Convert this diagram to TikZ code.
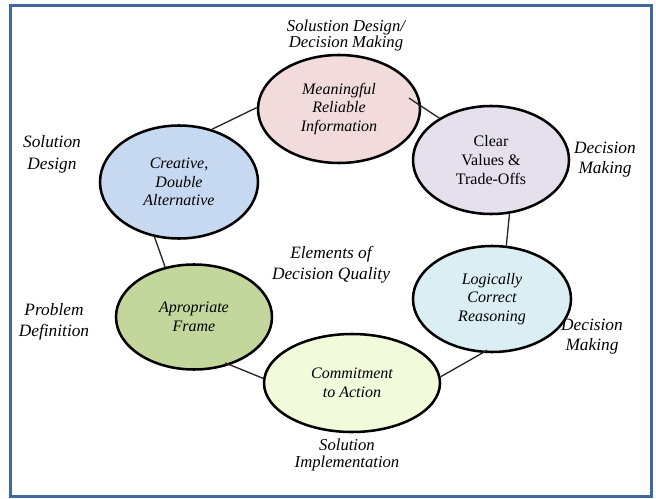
\documentclass[tikz,border=0pt]{standalone}
\usepackage{fontspec}
\setmainfont{Liberation Serif}
\usetikzlibrary{shapes.geometric}
\definecolor{framec}{RGB}{62,104,158}
\definecolor{pinkc}{RGB}{242,220,219}
\definecolor{purplec}{RGB}{229,224,236}
\definecolor{bluec}{RGB}{198,217,241}
\definecolor{greenc}{RGB}{195,214,155}
\definecolor{aquac}{RGB}{219,238,244}
\definecolor{yellowc}{RGB}{242,250,220}
\begin{document}
\begin{tikzpicture}[x=0.75pt,y=-0.75pt,
  elem/.style={ellipse, draw=black, line width=1.9pt, inner sep=0pt, align=center,
    font=\fontsize{12}{14}\selectfont\itshape},
  lbl/.style={align=center, inner sep=0pt, font=\fontsize{13}{16}\selectfont\itshape},
  link/.style={draw=black!85, line width=1pt}]
\useasboundingbox (0,0) rectangle (656,499);
\draw[framec, line width=2.25pt] (10,5.5) rectangle (651,496.5);
% outer labels
\node[lbl, font=\fontsize{12.5}{12}\selectfont\itshape] (ltop) at (346,35) {Solustion Design/\\Decision Making};
\node[lbl, font=\fontsize{13}{16.5}\selectfont\itshape] (lsd) at (52,154) {Solution\\Design};
\node[lbl, font=\fontsize{13}{15}\selectfont\itshape] (ldma) at (605,160) {Decision\\Making};
\node[lbl, font=\fontsize{13}{15.75}\selectfont\itshape] (lec) at (331,265) {Elements of\\Decision Quality};
\node[lbl, font=\fontsize{13}{15.75}\selectfont\itshape] (lpd) at (54,322) {Problem\\Definition};
\node[lbl, font=\fontsize{13}{15}\selectfont\itshape] (ldmb) at (592,337) {Decision\\Making};
\node[lbl, font=\fontsize{12.5}{12.75}\selectfont\itshape] (lsi) at (347,455) {Solution\\Implementation};
% elements
\node[elem, fill=pinkc, minimum width=121.5pt, minimum height=81pt] (pink) at (339,109) {Meaningful\\Reliable\\Information};
\node[elem, fill=purplec, minimum width=117pt, minimum height=81pt, font=\fontsize{12}{14}\selectfont\upshape] (purple) at (491,160) {Clear\\Values \&\\Trade-Offs};
\node[elem, fill=bluec, minimum width=118.5pt, minimum height=84.75pt] (blue) at (179,182) {Creative,\\Double\\Alternative};
\node[elem, fill=greenc, minimum width=117pt, minimum height=78.75pt] (green) at (194,317) {Apropriate\\Frame};
\node[elem, fill=aquac, minimum width=118.5pt, minimum height=79.5pt] (aqua) at (492,299) {Logically\\Correct\\Reasoning};
\node[elem, fill=yellowc, minimum width=132pt, minimum height=73.5pt] (commit) at (352,383) {Commitment\\to Action};
% connectors
\draw[link] (blue.58) -- (pink.179);
\draw[link, shorten <=-11pt] (pink.2) -- (purple.141);
\draw[link] (purple.289) -- (aqua.75);
\draw[link, shorten <=-4pt] (aqua.260) -- (commit.4);
\draw[link, shorten >=-4pt] (commit.177) -- (green.307);
\draw[link] (green.120) -- (blue.246);
\end{tikzpicture}
\end{document}
